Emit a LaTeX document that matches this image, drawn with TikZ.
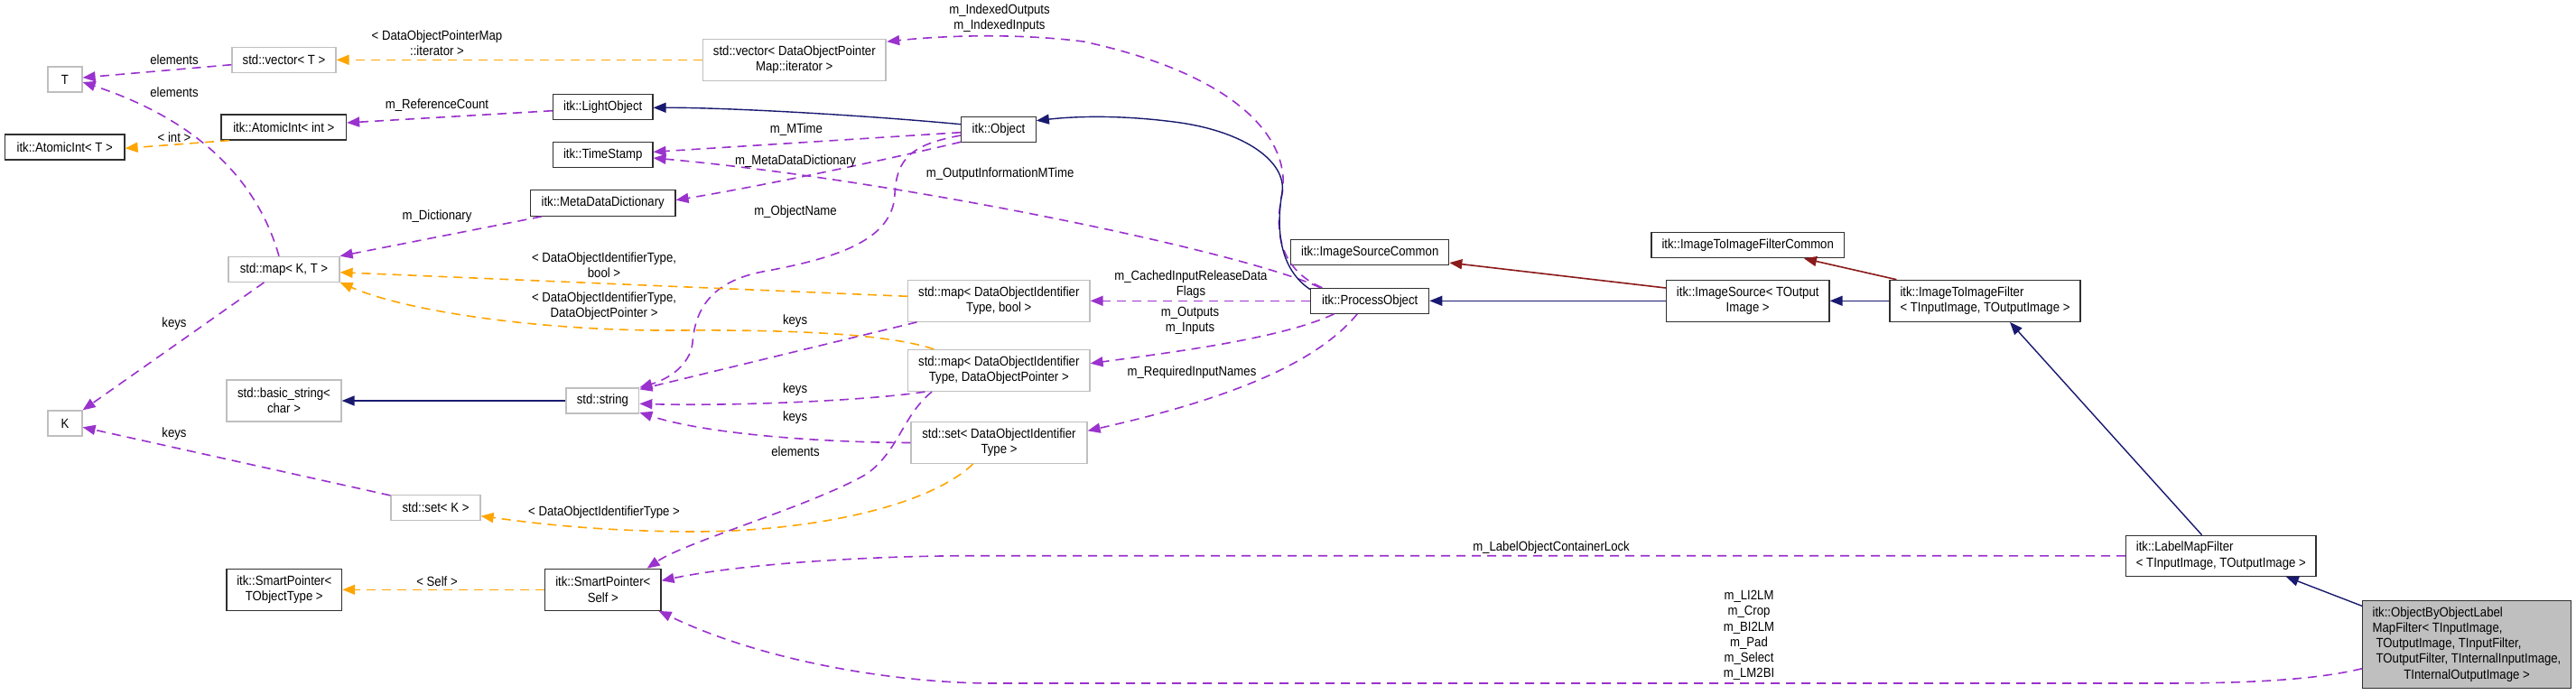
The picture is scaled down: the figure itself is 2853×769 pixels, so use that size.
\documentclass[tikz,border=0pt]{standalone}
\usepackage{fontspec}
\setmainfont{Liberation Sans}[FakeStretch=0.89]
\usetikzlibrary{arrows.meta,calc}
\definecolor{dpurple}{HTML}{9A32CD}
\definecolor{dorange}{HTML}{FFA500}
\definecolor{dnavy}{HTML}{191970}
\definecolor{dred}{HTML}{8B1A1A}
\definecolor{dgray}{HTML}{BFBFBF}
\definecolor{dborder}{HTML}{303030}
\newcommand{\dfont}{\fontsize{14.8}{17.3}\selectfont}
\begin{document}
\begin{tikzpicture}[x=1pt,y=-1pt,
  box/.style={draw=dborder, line width=1.2pt, inner sep=0pt, align=center, font=\dfont, fill=white},
  gbox/.style={box, draw=dgray},
  lbl/.style={inner sep=0pt, align=center, font=\dfont},
  tip/.style={-{Triangle[length=14pt,width=11pt]}},
  use/.style={tip, draw=dpurple, line width=1.6pt, dash pattern=on 10pt off 7pt},
  tmpl/.style={tip, draw=dorange, line width=1.6pt, dash pattern=on 10pt off 7pt},
  inh/.style={tip, draw=dnavy, line width=1.4pt},
  inhr/.style={tip, draw=dred, line width=1.6pt}]
\fill[white] (0,0) rectangle (2853,769);
\useasboundingbox (0,0) rectangle (2853,769);

% nodes
\node[gbox, minimum width=38pt, minimum height=28pt] (tT) at (72,88) {T};
\node[gbox, minimum width=115pt, minimum height=28pt] (vecT) at (314.5,66.3) {std::vector< T >};
\node[box, minimum width=138.5pt, minimum height=28pt] (aiInt) at (314.3,141) {itk::AtomicInt< int >};
\node[box, minimum width=132.6pt, minimum height=28pt] (aiT) at (71.7,163) {itk::AtomicInt< T >};
\node[gbox, minimum width=202.4pt, minimum height=46pt] (vecD) at (879.8,66.3) {std::vector< DataObjectPointer\\Map::iterator >};
\node[box, minimum width=110.5pt, minimum height=28.5pt] (light) at (667.7,118.5) {itk::LightObject};
\node[box, minimum width=110.5pt, minimum height=28pt] (tstamp) at (667.7,171.7) {itk::TimeStamp};
\node[box, minimum width=160.5pt, minimum height=28.6pt] (meta) at (667.7,225) {itk::MetaDataDictionary};
\node[box, minimum width=82.6pt, minimum height=28pt] (obj) at (1106,143.7) {itk::Object};
\node[gbox, minimum width=123pt, minimum height=28pt] (mapKT) at (314.5,298.3) {std::map< K, T >};
\node[gbox, minimum width=38pt, minimum height=28pt] (kK) at (72,469) {K};
\node[gbox, minimum width=127pt, minimum height=46pt] (bstr) at (314.5,444) {std::basic\_string<\\char >};
\node[gbox, minimum width=80.7pt, minimum height=28pt] (str) at (667.4,444) {std::string};
\node[gbox, minimum width=99pt, minimum height=28pt] (setK) at (482.5,562.5) {std::set< K >};
\node[box, minimum width=127.6pt, minimum height=46pt] (spT) at (314.8,653.3) {itk::SmartPointer<\\TObjectType >};
\node[box, minimum width=128.4pt, minimum height=46pt] (spS) at (667.8,653.3) {itk::SmartPointer<\\Self >};
\node[gbox, minimum width=201.4pt, minimum height=46pt] (mapB) at (1106.3,333.3) {std::map< DataObjectIdentifier\\Type, bool >};
\node[gbox, minimum width=201.4pt, minimum height=46pt] (mapD) at (1106.3,410.5) {std::map< DataObjectIdentifier\\Type, DataObjectPointer >};
\node[gbox, minimum width=195pt, minimum height=46pt] (setD) at (1106.5,490.5) {std::set< DataObjectIdentifier\\Type >};
\node[box, minimum width=131pt, minimum height=28pt] (proc) at (1517.2,333.3) {itk::ProcessObject};
\node[box, minimum width=175pt, minimum height=28pt] (isc) at (1517.2,279.8) {itk::ImageSourceCommon};
\node[box, minimum width=180.6pt, minimum height=46pt] (isrc) at (1935.7,333.3) {itk::ImageSource< TOutput\\Image >};
\node[box, minimum width=213.5pt, minimum height=28pt] (itifc) at (1935.7,271.8) {itk::ImageToImageFilterCommon};
\node[box, align=left, minimum width=211pt, minimum height=46pt] (itif) at (2198.5,333.3) {itk::ImageToImageFilter\\< TInputImage, TOutputImage >};
\node[box, align=left, minimum width=210.4pt, minimum height=45pt] (lmf) at (2459.8,615.8) {itk::LabelMapFilter\\< TInputImage, TOutputImage >};
\node[box, fill=dgray, minimum width=230.6pt, minimum height=97pt] (obb) at (2732,714.2) {\begin{tabular}{@{}l@{}}itk::ObjectByObjectLabel\\MapFilter< TInputImage,\\\hspace{4pt}TOutputImage, TInputFilter,\\\hspace{4pt}TOutputFilter, TInternalInputImage,\\\multicolumn{1}{@{}c@{}}{TInternalOutputImage >}\end{tabular}};

% edges
\draw[use] ($(vecT.west)+(0,5.4)$) -- ($(tT.east)+(0,-2)$);
\draw[use] ($(mapKT.north)+(-5.5,0)$) .. controls (295,235) and (255,145) .. ($(tT.east)+(0,3)$);
\draw[tmpl] ($(aiInt.south west)+(9.5,0)$) -- ($(aiT.east)+(0,1.3)$);
\draw[use] ($(light.west)+(0,4.2)$) -- ($(aiInt.east)+(0,-5)$);
\draw[tmpl] (vecD.west) -- (vecT.east);
\draw[inh] ($(obj.west)+(0,-6)$) .. controls (950,127) and (800,119) .. ($(light.east)+(0,0.8)$);
\draw[use] ($(obj.west)+(0,3)$) -- ($(tstamp.east)+(0,-3.4)$);
\draw[use] ($(proc.north west)+(11,0)$) .. controls (1380,280) and (1000,200) .. ($(tstamp.east)+(0,3.3)$);
\draw[use] ($(obj.south west)+(0,-1)$) .. controls (990,175) and (850,205) .. ($(meta.east)+(0,-3.3)$);
\draw[use] ($(obj.west)+(0,6.3)$) .. controls (1010,160) and (993,175) .. (991,215) .. controls (989,265) and (930,285) .. (850,300) .. controls (790,310) and (770,340) .. (767,380) .. controls (764,405) and (740,420) .. (str.north east);
\draw[use] ($(mapKT.south)+(-22,0)$) -- (kK.north east);
\draw[use] ($(setK.north west)+(0,1)$) -- ($(kK.east)+(0,4.3)$);
\draw[use] ($(meta.south west)+(13,0)$) -- (mapKT.north east);
\draw[tmpl] ($(mapB.west)+(0,-5)$) -- ($(mapKT.east)+(0,3.4)$);
\draw[tmpl] ($(mapD.north west)+(29.4,0)$) .. controls (990,372) and (900,365) .. (750,366) .. controls (600,367) and (450,345) .. (mapKT.south east);
\draw[use] ($(mapB.south west)+(10.4,0)$) -- ($(str.north east)+(0,2)$);
\draw[use] ($(mapD.south west)+(19.4,0)$) .. controls (950,445) and (800,450) .. ($(str.east)+(0,3.3)$);
\draw[use] (setD.west) .. controls (900,490) and (780,480) .. ($(str.south east)+(0,-1.6)$);
\draw[inh] (str.west) -- (bstr.east);
\draw[use] (proc.west) -- (mapB.east);
\draw[use] ($(proc.south west)+(26.3,0)$) .. controls (1420,375) and (1300,390) .. ($(mapD.east)+(0,-7.8)$);
\draw[use] ($(proc.south)+(-14,0)$) .. controls (1460,400) and (1370,440) .. ($(setD.east)+(0,-13.2)$);
\draw[use] ($(proc.north west)+(13.3,0)$) .. controls (1420,300) and (1410,260) .. (1420,215) .. controls (1430,160) and (1380,85) .. (1200,46) .. controls (1120,36) and (1040,40) .. ($(vecD.north east)+(0.6,3.4)$);
\draw[inh] ($(proc.north west)+(0,2)$) .. controls (1420,300) and (1412,260) .. (1420,213) .. controls (1425,180) and (1380,145) .. (1300,135) .. controls (1230,126) and (1180,130) .. ($(obj.east)+(0,-10)$);
\draw[inh] (isrc.west) -- (proc.east);
\draw[inhr] ($(isrc.north west)+(0,9.3)$) -- ($(isc.south east)+(0,-3.3)$);
\draw[inh] (itif.west) -- (isrc.east);
\draw[inhr] ($(itif.north west)+(8,0)$) -- ($(itifc.south)+(62.3,0)$);
\draw[inh] ($(lmf.north)+(-21.2,0)$) -- ($(itif.south)+(27.5,0)$);
\draw[inh] ($(obb.north west)+(0,6.3)$) -- ($(lmf.south)+(72,0)$);
\draw[use] (lmf.west) -- (1080,615.7) .. controls (960,615.7) and (820,625) .. ($(spS.east)+(0,-10)$);
\draw[use] ($(obb.west)+(0,26.5)$) .. controls (2570,752) and (2500,757) .. (2400,757) -- (1100,757) .. controls (1000,757) and (850,735) .. ($(spS.south east)+(-3,0)$);
\draw[tmpl] (spS.west) -- (spT.east);
\draw[tmpl] ($(setD.south)+(-29,0)$) .. controls (1030,560) and (900,590) .. (760,589) .. controls (650,588) and (580,578) .. ($(setK.east)+(0,9.2)$);
\draw[use] ($(mapD.south west)+(27,0)$) .. controls (1000,460) and (995,500) .. (960,525) .. controls (900,560) and (760,600) .. ($(spS.north east)+(-16,0)$);

% labels
\node[lbl] (l1) at (193,66.7) {elements};
\node[lbl] (l2) at (193,102.7) {elements};
\node[lbl] (l3) at (484,48) {< DataObjectPointerMap\\::iterator >};
\node[lbl] (l4) at (484,116.7) {m\_ReferenceCount};
\node[lbl] (l5) at (193,151.7) {< int >};
\node[lbl] (l6) at (484,239.3) {m\_Dictionary};
\node[lbl] (l7) at (669,293.5) {< DataObjectIdentifierType,\\bool >};
\node[lbl] (l8) at (669,339.5) {< DataObjectIdentifierType,\\DataObjectPointer >};
\node[lbl] (l9) at (193,358.3) {keys};
\node[lbl] (l10) at (193,480.7) {keys};
\node[lbl] (l11) at (669,567.7) {< DataObjectIdentifierType >};
\node[lbl] (l12) at (484,644) {< Self >};
\node[lbl] (l13) at (882,144) {m\_MTime};
\node[lbl] (l14) at (881,179) {m\_MetaDataDictionary};
\node[lbl] (l15) at (881,235) {m\_ObjectName};
\node[lbl] (l16) at (1107.6,192.7) {m\_OutputInformationMTime};
\node[lbl] (l17) at (1107,20) {m\_IndexedOutputs\\m\_IndexedInputs};
\node[lbl] (l18) at (880.6,356) {keys};
\node[lbl] (l19) at (880.6,431.7) {keys};
\node[lbl] (l20) at (880.6,462.7) {keys};
\node[lbl] (l21) at (881,500.7) {elements};
\node[lbl] (l22) at (1319,315) {m\_CachedInputReleaseData\\Flags};
\node[lbl] (l23) at (1318,355.3) {m\_Outputs\\m\_Inputs};
\node[lbl] (l24) at (1320,412.7) {m\_RequiredInputNames};
\node[lbl] (l25) at (1718,606.7) {m\_LabelObjectContainerLock};
\node[lbl] (l26) at (1937,704) {m\_LI2LM\\m\_Crop\\m\_BI2LM\\m\_Pad\\m\_Select\\m\_LM2BI};
\end{tikzpicture}
\end{document}
